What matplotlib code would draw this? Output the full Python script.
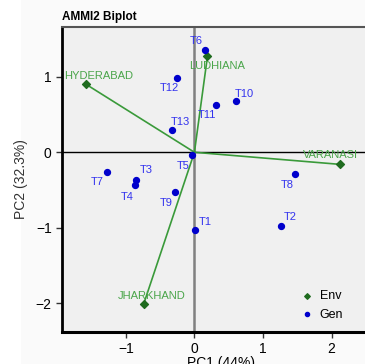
import matplotlib
matplotlib.use("Agg")
import matplotlib.pyplot as plt
from matplotlib.patches import Rectangle

plt.rcParams['font.family'] = ['Liberation Sans', 'DejaVu Sans']

# environment scores (PC1, PC2)
env_names = ['HYDERABAD', 'LUDHIANA', 'VARANASI', 'JHARKHAND']
env_pc1 = [-1.58, 0.19, 2.12, -0.74]
env_pc2 = [0.90, 1.27, -0.16, -2.01]

# genotype scores (PC1, PC2)
gen_names = ['T1', 'T2', 'T3', 'T4', 'T5', 'T6', 'T7', 'T8', 'T9', 'T10', 'T11', 'T12', 'T13']
gen_pc1 = [0.01, 1.26, -0.85, -0.86, -0.04, 0.15, -1.27, 1.47, -0.29, 0.61, 0.32, -0.25, -0.32]
gen_pc2 = [-1.03, -0.97, -0.37, -0.44, -0.04, 1.35, -0.26, -0.29, -0.52, 0.68, 0.62, 0.98, 0.29]

# label offsets in points
env_off = [(9, 6), (7, -7), (-7, 7), (6, 6)]
gen_off = [(7, 6), (7, 6), (7, 7), (-6, -8), (-6, -8), (-6, 7), (-7, -7), (-6, -8),
           (-6, -8), (6, 5), (-7, -7), (-6, -7), (6, 6)]

fig = plt.figure(figsize=(3.65, 3.64), dpi=100)
fig.patch.set_facecolor('#fafafa')
fig.patches.append(Rectangle((0, 0), 0.057, 1, transform=fig.transFigure,
                             facecolor='white', edgecolor='none', zorder=-1))
ax = fig.add_axes([0.170, 0.088, 0.87, 0.838])
ax.set_zorder(1)
ax.set_facecolor('#f0f0f0')

ax.axvline(0, color='#808080', lw=1.8, zorder=1)
ax.axhline(0, color='black', lw=1.0, zorder=1)

for x, y in zip(env_pc1, env_pc2):
    ax.plot([0, x], [0, y], color='#3a9a3a', lw=1.2, zorder=2)

ax.scatter(env_pc1, env_pc2, marker='D', s=16, color='#1f6b1f', zorder=3, label='Env')
ax.scatter(gen_pc1, gen_pc2, marker='o', s=18, color='#0000cc', zorder=3, label='Gen')

for n, x, y, o in zip(env_names, env_pc1, env_pc2, env_off):
    ax.annotate(n, (x, y), xytext=o, textcoords='offset points', ha='center', va='center',
                color='#4aa54a', fontsize=8)
for n, x, y, o in zip(gen_names, gen_pc1, gen_pc2, gen_off):
    ax.annotate(n, (x, y), xytext=o, textcoords='offset points', ha='center', va='center',
                color='#3333ee', fontsize=8)

ax.set_xlim(-1.93, 2.7)
ax.set_ylim(-2.38, 1.66)
ax.set_xticks([-1, 0, 1, 2])
ax.set_yticks([-2, -1, 0, 1])
ax.tick_params(labelsize=10, length=4, width=1, color='#333333')

ax.spines['left'].set_linewidth(2)
ax.spines['bottom'].set_linewidth(2.2)
ax.spines['top'].set_linewidth(1.5)
ax.spines['top'].set_color('#555555')
ax.spines['right'].set_visible(False)

ax.set_xlabel('PC1 (44%)', fontsize=10, labelpad=0)
ax.set_ylabel('PC2 (32.3%)', fontsize=10, color='#333333')
ax.yaxis.set_label_coords(-0.107, 0.5)
ax.set_title('AMMI2 Biplot', fontsize=8.5, fontweight='bold', loc='left', pad=5)

ax.legend(loc='lower left', bbox_to_anchor=(0.705, 0.0), frameon=False, fontsize=9,
          markerscale=0.7, handletextpad=0.3, handlelength=1.5)

fig.savefig('out.png', dpi=100, facecolor=fig.get_facecolor())
